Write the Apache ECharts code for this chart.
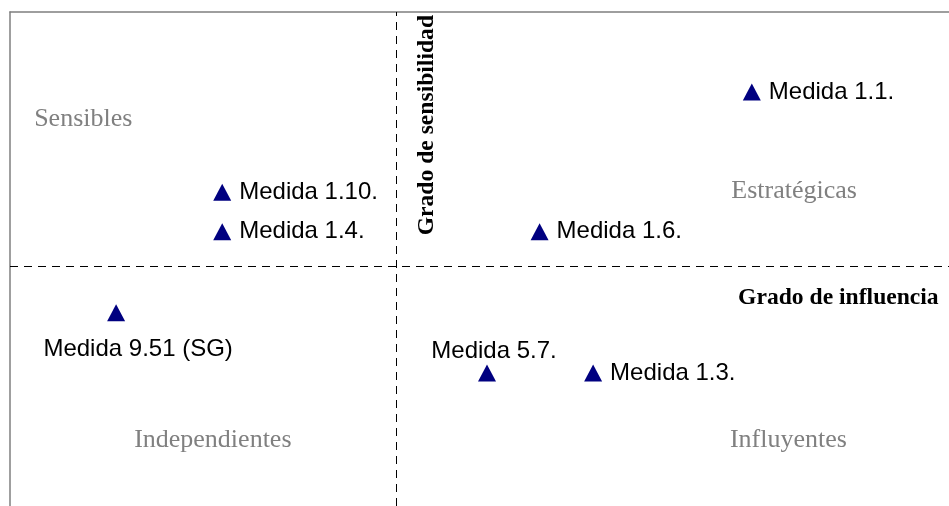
<!DOCTYPE html>
<html>
<head>
<meta charset="utf-8">
<script src="https://cdn.jsdelivr.net/npm/echarts@6/dist/echarts.min.js"></script>
<style>html,body{margin:0;padding:0;background:#fff;}#c{width:949px;height:506px;}</style>
</head>
<body>
<div id="c"></div>
<script>
// Measures: [influence (x), sensitivity (y)]
var measureNames = ['Medida 1.1.', 'Medida 1.10.', 'Medida 1.4.', 'Medida 1.6.', 'Medida 9.51 (SG)', 'Medida 5.7.', 'Medida 1.3.'];
var influence   = [79.0, 22.6, 22.6, 56.4, 11.3, 50.8, 62.1];
var sensitivity = [83.8, 63.5, 55.5, 55.5, 39.1, 26.9, 26.9];
var labelPlacement = ['right', 'right', 'right', 'right', 'below', 'above', 'right'];

// Quadrant dividers
var influenceMean = 41.1;
var sensitivityMean = 48.5;

// Quadrant names and their anchor positions
var quadrantNames = ['Sensibles', 'Estratégicas', 'Independientes', 'Influyentes'];
var quadrantX = [7.8, 83.5, 21.6, 82.9];
var quadrantY = [78.3, 63.8, 13.3, 13.3];

// Axis titles
var xTitle = 'Grado de influencia';
var yTitle = 'Grado de sensibilidad';

var chart = echarts.init(document.getElementById('c'), null, {renderer: 'canvas'});

var pointData = measureNames.map(function (n, i) {
  var d = {name: n, value: [influence[i], sensitivity[i]]};
  if (labelPlacement[i] === 'below') {
    d.label = {position: 'bottom', distance: 16, offset: [22, 0]};
  } else if (labelPlacement[i] === 'above') {
    d.label = {position: 'top', distance: 1, offset: [7, 0]};
  }
  return d;
});

var quadData = quadrantNames.map(function (n, i) {
  return {name: n, value: [quadrantX[i], quadrantY[i]]};
});

var option = {
  animation: false,
  backgroundColor: '#ffffff',
  grid: {left: 10, right: 0, top: 12, bottom: 0, containLabel: false},
  xAxis: {
    type: 'value', position: 'top', min: 0, max: 100,
    axisLine: {show: true, onZero: false, lineStyle: {color: '#7f7f7f', width: 1.5}},
    axisTick: {show: false}, axisLabel: {show: false}, splitLine: {show: false}
  },
  yAxis: {
    type: 'value', position: 'left', min: 0, max: 100,
    axisLine: {show: true, onZero: false, lineStyle: {color: '#7f7f7f', width: 1.5}},
    axisTick: {show: false}, axisLabel: {show: false}, splitLine: {show: false}
  },
  series: [
    {
      type: 'scatter',
      symbol: 'triangle',
      symbolSize: [18, 17],
      itemStyle: {color: '#000080', opacity: 1},
      emphasis: {disabled: true},
      label: {
        show: true, position: 'right', distance: 8,
        formatter: '{b}', color: '#000000', opacity: 1,
        fontFamily: 'Liberation Sans, Arial, sans-serif', fontSize: 24
      },
      data: pointData,
      markLine: {
        silent: true, symbol: 'none',
        label: {show: false},
        lineStyle: {color: '#000000', type: [8, 6], width: 1, opacity: 1},
        data: [{xAxis: influenceMean}, {yAxis: sensitivityMean}]
      },
      z: 3
    },
    {
      type: 'scatter',
      symbolSize: 0,
      silent: true,
      itemStyle: {opacity: 1},
      emphasis: {disabled: true},
      label: {
        show: true, position: 'inside', formatter: '{b}', opacity: 1,
        color: '#808080', fontFamily: 'Liberation Serif, Times New Roman, serif', fontSize: 26
      },
      data: quadData,
      z: 2
    },
    {
      type: 'scatter',
      symbolSize: 0,
      silent: true,
      itemStyle: {opacity: 1},
      emphasis: {disabled: true},
      label: {
        show: true, formatter: '{b}', color: '#000000', opacity: 1,
        fontFamily: 'Liberation Serif, Times New Roman, serif', fontWeight: 'bold', fontSize: 23.6
      },
      data: [
        {name: xTitle, value: [98.9, 42.1], label: {position: 'left', distance: 0, align: 'right'}},
        {name: yTitle, value: [44.4, 77.1], label: {position: 'inside', rotate: 90}}
      ],
      z: 2
    }
  ]
};
chart.setOption(option);
</script>
</body>
</html>
